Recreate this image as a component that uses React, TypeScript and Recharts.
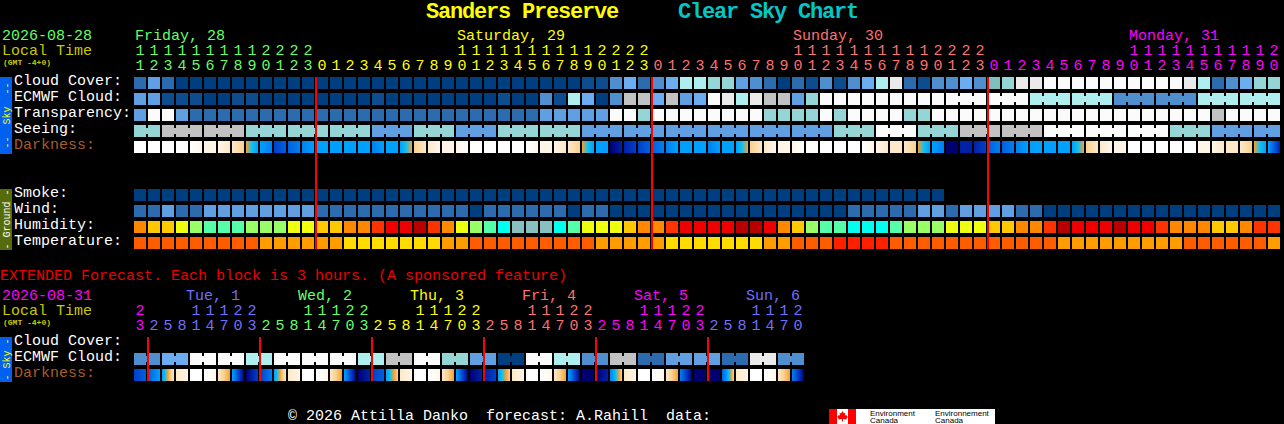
import React from "react";
import { ScatterChart, Scatter, XAxis, YAxis } from "recharts";

const FONT = "'Liberation Mono', monospace";

// level palettes
const skyPalette = ["#003f7f", "#0d4d8d", "#2c6cae", "#4f8fd0", "#5f9fe2", "#6cacf0", "#7fbfbf", "#95d5d5", "#aeeeee", "#c2c2c2", "#eaeaea", "#fbfbfb"];
const darkPalette = ["#ffffff", "#fff6e8", "#fde8c8", "#fbd090", "#f5a030", "#10c0f0", "#00a0ff", "#0080f0", "#0060e0", "#0040c8", "#0020a8", "#000070"];
const humidityPalette = ["#88c0c0", "#00ffee", "#55ffaa", "#99ff66", "#eeff10", "#ffc800", "#ff8800", "#ff3300", "#ee0000", "#b80000"];
const temperaturePalette = ["#ffdc00", "#ff9c00", "#ff5c00", "#ff2000"];

// hourly forecast
const hourlyHours = [
  11, 12, 13, 14, 15, 16, 17, 18, 19, 20, 21, 22, 23,
  0, 1, 2, 3, 4, 5, 6, 7, 8, 9, 10, 11, 12, 13, 14, 15, 16, 17, 18, 19, 20, 21, 22, 23,
  0, 1, 2, 3, 4, 5, 6, 7, 8, 9, 10, 11, 12, 13, 14, 15, 16, 17, 18, 19, 20, 21, 22, 23,
  0, 1, 2, 3, 4, 5, 6, 7, 8, 9, 10, 11, 12, 13, 14, 15, 16, 17, 18, 19, 20,
];
const hourlyDays = ["Friday, 28", "Saturday, 29", "Sunday, 30", "Monday, 31"];
const hourlyDayStarts = [0, 23, 47, 71];
const hourlyDayColors = ["#66ff66", "#ffff00", "#ff7070", "#ff00ff"];
const midnightBlocks = [13, 37, 61];

const cloudCover = [
  2, 4, 2, 0, 0, 0, 0, 0, 0, 0, 0, 0, 0,
  0, 0, 0, 0, 0, 0, 0, 0, 0, 0, 0, 0, 0, 0, 0, 0, 0, 0, 0, 1, 1, 3, 5, 2,
  3, 5, 8, 8, 7, 7, 4, 3, 2, 0, 2, 1, 3, 1, 3, 5, 8, 10, 2, 1, 3, 3, 5, 3,
  6, 7, 10, 10, 11, 11, 11, 11, 11, 11, 11, 11, 11, 11, 10, 8, 2, 3, 5, 7, 7,
];
const ecmwfCloud = [
  4, 4, 1, 1, 1, 0, 0, 1, 1, 0, 0, 0, 0,
  0, 0, 0, 0, 1, 0, 0, 0, 0, 0, 0, 0, 0, 1, 0, 0, 3, 1, 8, 5, 0, 3, 9, 9,
  5, 9, 4, 5, 11, 10, 8, 10, 9, 9, 4, 7, 11, 11, 11, 11, 11, 11, 11, 11, 11, 11, 11, 11,
  11, 11, 11, 8, 8, 8, 8, 8, 8, 3, 3, 3, 3, 3, 3, 8, 8, 8, 8, 8, 8,
];
const ecmwfGroups = [
  1, 1, 1, 1, 1, 1, 1, 1, 1, 1, 1, 1, 1, 1, 1, 1, 1, 1, 1, 1, 1, 1, 1, 1, 1, 1, 1, 1, 1,
  1, 1, 1, 1, 1, 1, 1, 1, 1, 1, 1, 1, 1, 1, 1, 1, 1, 1, 1, 1, 1, 1, 1, 1, 1, 1, 1, 1, 1,
  3, 3, 3, 3, 3, 3, 3, 3,
];
const transparency = [
  4, 11, 11, 4, 2, 2, 2, 2, 2, 2, 2, 2, 2,
  2, 2, 2, 2, 2, 2, 2, 2, 2, 2, 2, 2, 2, 2, 2, 2, 4, 4, 4, 4, 4, 11, 11, 7,
  11, 11, 11, 11, 11, 11, 11, 11, 7, 7, 7, 7, 11, 7, 11, 11, 11, 11, 7, 7, 11, 11, 11, 11,
  11, 11, 11, 11, 11, 11, 11, 11, 11, 11, 11, 11, 11, 11, 11, 11, 9, 11, 11, 11, 11,
];
const seeing = [
  7, 7, 9, 9, 9, 9, 9, 9, 7, 7, 7, 7, 7,
  7, 7, 7, 7, 4, 4, 4, 7, 7, 7, 4, 4, 4, 7, 7, 7, 7, 7, 7, 4, 4, 4, 4, 4,
  4, 4, 4, 4, 4, 4, 4, 4, 4, 4, 4, 4, 4, 7, 7, 7, 11, 11, 11, 7, 7, 7, 9, 9,
  9, 9, 9, 9, 11, 11, 11, 11, 11, 11, 11, 11, 11, 7, 7, 7, 4, 4, 4, 4, 4,
];
const seeingGroups = [2, 3, 3, 3, 3, 3, 3, 3, 3, 3, 3, 3, 3, 3, 3, 3, 3, 3, 3, 3, 3, 3, 3, 3, 3, 3, 3, 2];
const darknessStart = [
  0, 0, 0, 0, 0, 1, 1, 2, 4, 6, 9, 8, 7,
  6, 6, 6, 6, 7, 6, 6, 3, 2, 1, 1, 0, 0, 0, 0, 0, 1, 1, 2, 4, 6, 11, 10, 9,
  8, 7, 6, 6, 7, 6, 6, 3, 2, 1, 1, 0, 0, 0, 0, 0, 1, 2, 2, 4, 6, 11, 10, 10,
  8, 8, 7, 6, 6, 6, 6, 3, 2, 1, 0, 0, 0, 0, 0, 1, 1, 2, 2, 4, 6,
];
const darknessEnd = [
  0, 0, 0, 0, 1, 1, 2, 3, 6, 7, 8, 7, 6,
  6, 6, 6, 6, 6, 6, 4, 2, 1, 1, 0, 0, 0, 0, 0, 1, 1, 2, 3, 6, 6, 10, 9, 8,
  7, 6, 6, 6, 6, 6, 4, 2, 1, 1, 0, 0, 0, 0, 0, 1, 2, 2, 3, 6, 7, 11, 10, 9,
  7, 7, 6, 6, 6, 6, 4, 2, 1, 1, 0, 0, 0, 0, 0, 1, 2, 2, 3, 6, 10,
];
const smoke = [
  0, 0, 0, 0, 0, 0, 0, 0, 0, 0, 0, 0, 0, 0, 0, 0, 0, 0, 0, 0, 0, 0, 0, 0, 0, 0, 0, 0, 0,
  0, 0, 0, 0, 0, 0, 0, 0, 0, 0, 0, 0, 0, 0, 0, 0, 0, 0, 0, 0, 0, 0, 0, 0, 0, 0, 0, 0, 0,
];
const wind = [
  2, 2, 4, 2, 2, 4, 4, 4, 4, 4, 4, 4, 4,
  2, 2, 2, 2, 2, 2, 2, 2, 2, 2, 2, 0, 2, 2, 2, 2, 2, 2, 0, 2, 2, 0, 0, 0,
  0, 0, 0, 0, 0, 0, 0, 0, 0, 0, 0, 0, 0, 0, 2, 2, 2, 2, 2, 4, 4, 2, 4, 4,
  4, 4, 2, 2, 0, 0, 0, 0, 0, 0, 0, 0, 0, 0, 0, 0, 0, 0, 0, 0, 0,
];
const humidity = [
  6, 5, 5, 4, 3, 2, 2, 2, 3, 3, 3, 4, 4, 5, 5, 6, 6, 7, 8, 8, 9,
  7, 6, 4, 3, 2, 1, 0, 0, 0, 1, 2, 4, 4, 4, 5, 6, 6, 7, 8, 8, 8, 8, 9, 9, 8, 6, 5, 3, 2, 2, 1,
  1, 1, 2, 3, 3, 3, 4, 4, 4, 5, 5, 6, 6, 7, 9, 8, 8, 8, 9, 8, 8, 7, 6, 6, 6, 5, 5, 6, 7, 7,
];
const temperature = [
  2, 2, 2, 2, 2, 2, 2, 2, 2, 1, 1, 1, 1, 1, 1, 0, 0, 0, 0, 0, 0,
  0, 1, 1, 2, 2, 2, 2, 2, 2, 2, 2, 2, 1, 1, 1, 1, 1, 0, 0, 0, 0, 0, 0, 0, 1, 1, 2, 2, 2, 3, 3,
  3, 3, 2, 2, 2, 2, 2, 2, 2, 2, 2, 2, 2, 2, 1, 1, 1, 1, 1, 1, 1, 1, 1, 2, 2, 2, 2, 2, 2, 1,
];

// extended forecast
const extHours = [
  23,
  2, 5, 8, 11, 14, 17, 20, 23,
  2, 5, 8, 11, 14, 17, 20, 23,
  2, 5, 8, 11, 14, 17, 20, 23,
  2, 5, 8, 11, 14, 17, 20, 23,
  2, 5, 8, 11, 14, 17, 20, 23,
  2, 5, 8, 11, 14, 17, 20,
];
const extDays = ["Tue, 1", "Wed, 2", "Thu, 3", "Fri, 4", "Sat, 5", "Sun, 6"];
const extDayStarts = [4, 12, 20, 28, 36, 44];
const extDayColors = ["#ff00ff", "#7070ff", "#66ff66", "#ffff00", "#ff7070", "#ff00ff", "#7070ff"];
const extMidnightBlocks = [1, 9, 17, 25, 33, 41];
const extEcmwf = [3, 3, 5, 5, 11, 11, 11, 11, 8, 8, 11, 11, 11, 11, 11, 11, 8, 8, 9, 9, 11, 11, 7, 7, 4, 4, 0, 0, 11, 11, 8, 8, 3, 3, 9, 9, 2, 2, 4, 4, 4, 4, 2, 2, 10, 10, 3, 3];
const extEcmwfGroups = [2, 2, 2, 2, 2, 2, 2, 2, 2, 2, 2, 2, 2, 2, 2, 2, 2, 2, 2, 2, 2, 2, 2, 2];
const extDarkStart = [9, 8, 6, 2, 0, 0, 2, 6, 11, 9, 6, 2, 0, 0, 2, 6, 11, 9, 6, 2, 0, 0, 2, 6, 11, 10, 6, 2, 0, 0, 2, 6, 11, 11, 7, 2, 0, 0, 2, 7, 11, 11, 8, 2, 0, 0, 2, 7];
const extDarkEnd = [8, 6, 2, 1, 0, 1, 4, 11, 9, 7, 2, 1, 0, 1, 4, 11, 10, 8, 3, 1, 0, 1, 4, 11, 10, 9, 3, 1, 0, 1, 4, 11, 11, 10, 3, 1, 0, 1, 4, 11, 11, 11, 3, 1, 0, 1, 4, 11];

const hourlyLabels = ["Cloud Cover:", "ECMWF Cloud:", "Transparency:", "Seeing:", "Darkness:", "", "", "Smoke:", "Wind:", "Humidity:", "Temperature:"];
const extLabels = ["Cloud Cover:", "ECMWF Cloud:", "Darkness:"];

const groupLinks = (sizes: number[]) => {
  const links = new Set<number>();
  let at = 0;
  sizes.forEach((s) => {
    for (let k = 0; k < s - 1; k++) links.add(at + k);
    at += s;
  });
  return links;
};

const levelRows = (row: number, values: number[], palette: string[], sizes?: number[]) => {
  const links = sizes ? groupLinks(sizes) : new Set<number>();
  return values.map((v, i) => ({ x: i + 0.5, y: row + 0.5, fill: palette[v], link: links.has(i) }));
};
const darkRows = (row: number, a: number[], b: number[]) =>
  a.map((v, i) => ({ x: i + 0.5, y: row + 0.5, from: v, to: b[i], id: `d${row}-${a.length}-${i}` }));

const Block = (p: any) => {
  const { cx, cy, payload } = p;
  const x = cx - 6;
  const y = cy - 6;
  if (payload.id) {
    const { from, to, id } = payload;
    if (from === to) return <rect x={x} y={y} width={12} height={12} fill={darkPalette[from]} shapeRendering="crispEdges" />;
    const n = Math.abs(to - from);
    const dir = to > from ? 1 : -1;
    const stops = [];
    for (let k = 0; k <= n; k++) stops.push(<stop key={k} offset={k / n} stopColor={darkPalette[from + dir * k]} />);
    return (
      <g>
        <defs>
          <linearGradient id={id} x1="0" x2="1" y1="0" y2="0">{stops}</linearGradient>
        </defs>
        <rect x={x} y={y} width={12} height={12} fill={`url(#${id})`} shapeRendering="crispEdges" />
      </g>
    );
  }
  return (
    <g shapeRendering="crispEdges">
      <rect x={x} y={y} width={12} height={12} fill={payload.fill} />
      {payload.link ? <rect x={x + 12} y={y + 3} width={2} height={6} fill={payload.fill} /> : null}
    </g>
  );
};

const NoMark = () => <g />;
// the red day marks sit one pixel into the block that starts the local night
const redLine = (b: number, y0: number, y1: number) => [{ x: b + 1 / 14, y: y0 }, { x: b + 1 / 14, y: y1 }];
const redStyle = { stroke: "#ff0000", strokeWidth: 2, shapeRendering: "crispEdges" };

const makeHourTick = (hours: number[], colors: string[], days: string[], starts: number[], nameShift: number) => (p: any) => {
  const { x, y, payload } = p;
  const i = Math.floor(payload.value);
  const h = hours[i];
  let day = 0;
  for (let k = 1; k <= i; k++) if (hours[k] < hours[k - 1]) day++;
  const color = colors[day];
  const dn = starts.indexOf(i);
  return (
    <g fontFamily={FONT} fontSize={15} fill={color}>
      <text x={x} y={y - 5} textAnchor="middle">{String(h % 10)}</text>
      {h >= 10 ? <text x={x} y={y - 20} textAnchor="middle">{String(Math.floor(h / 10))}</text> : null}
      {dn >= 0 ? <text x={x - 6 + nameShift} y={y - 35}>{days[dn]}</text> : null}
    </g>
  );
};

const makeRowTick = (labels: string[]) => (p: any) => {
  const label = labels[Math.floor(p.payload.value)];
  return (
    <text x={14} y={p.y + 2} fontFamily={FONT} fontSize={15} fill={label === "Darkness:" ? "#a85c28" : "#ffffff"}>{label}</text>
  );
};

const allTicks = (n: number) => Array.from({ length: n }, (_, i) => i + 0.5);

const Vert = ({ cy, fill, children }: any) => (
  <text x={0} y={0} transform={`translate(9.5,${cy}) rotate(-90)`} textAnchor="middle" fontFamily={FONT} fontSize={10} fill={fill} style={{ whiteSpace: "pre" }}>{children}</text>
);

export default function App() {
  document.body.style.background = "#000";
  document.body.style.overflow = "hidden";
  const t = { fontFamily: FONT, fontSize: 15, style: { whiteSpace: "pre" as const } };
  return (
    <div style={{ position: "absolute", left: 0, top: 0, width: 1284, height: 424, background: "#000", overflow: "hidden" }}>
      <svg width={1284} height={424} style={{ position: "absolute", left: 0, top: 0 }}>
        <text x={426} y={18} fontFamily={FONT} fontWeight="bold" fontSize={22} letterSpacing={-1.2} fill="#ffff00">Sanders Preserve</text>
        <text x={678} y={18} fontFamily={FONT} fontWeight="bold" fontSize={22} letterSpacing={-1.2} fill="#00c8c8">Clear Sky Chart</text>

        <text x={2} y={40} {...t} fill="#66ff66">2026-08-28</text>
        <text x={2} y={55} {...t} fill="#c8c800">Local Time</text>
        <text x={3} y={65} fontFamily={FONT} fontSize={8} fontWeight="bold" fill="#c8c800">(GMT -4+0)</text>

        <rect x={0} y={77} width={12} height={77} fill="#0060f0" />
        <Vert cy={115.5} fill="#ffff00">{"--  Sky  --"}</Vert>
        <rect x={0} y={189} width={12} height={61} fill="#556b0c" />
        <Vert cy={219.5} fill="#ffffff">{"- Ground -"}</Vert>

        <text x={0} y={280} {...t} fill="#ee0000">EXTENDED Forecast. Each block is 3 hours. (A sponsored feature)</text>

        <text x={2} y={300} {...t} fill="#ff00ff">2026-08-31</text>
        <text x={2} y={315} {...t} fill="#c8c800">Local Time</text>
        <text x={3} y={325} fontFamily={FONT} fontSize={8} fontWeight="bold" fill="#c8c800">(GMT -4+0)</text>
        <rect x={0} y={337} width={12} height={45} fill="#0060f0" />
        <Vert cy={359.5} fill="#ffff00">{"- Sky -"}</Vert>

        <text x={288} y={420} {...t} fill="#ffffff">{"© 2026 Attilla Danko  forecast: A.Rahill  data:"}</text>
        <rect x={829} y={409} width={166} height={15} fill="#ffffff" />
        <rect x={829} y={409} width={8} height={15} fill="#ff0000" />
        <rect x={848} y={409} width={8} height={15} fill="#ff0000" />
        <path d="M842.5 411 l1.5 2.5 1.5 -1 -0.5 3 1.5 -0.5 0.5 1.5 1 0 -2 3 -3 -0.5 0 2.5 -1 0 0 -2.5 -3 0.5 -2 -3 1 0 0.5 -1.5 1.5 0.5 -0.5 -3 1.5 1z" fill="#ff0000" />
        <g fontFamily="'Liberation Sans', sans-serif" fontSize={8} fill="#000">
          <text x={870} y={415.5}>Environment</text>
          <text x={870} y={422.5}>Canada</text>
          <text x={935} y={415.5}>Environnement</text>
          <text x={935} y={422.5}>Canada</text>
        </g>
      </svg>

      <div style={{ position: "absolute", left: 0, top: 0 }}>
        <ScatterChart width={1284} height={251} margin={{ top: 0, right: 3, bottom: 0, left: 0 }}>
          <XAxis
            type="number" dataKey="x" orientation="top" height={75} domain={[0, 82]} ticks={allTicks(82)} interval={0}
            axisLine={false} tickLine={false} tickSize={0} tickMargin={0}
            tick={makeHourTick(hourlyHours, hourlyDayColors, hourlyDays, hourlyDayStarts, 1)}
          />
          <YAxis
            type="number" dataKey="y" width={133} reversed domain={[0, 11]} ticks={allTicks(11).filter((v) => hourlyLabels[Math.floor(v)] !== "")} interval={0}
            axisLine={false} tickLine={false} tick={makeRowTick(hourlyLabels)}
          />
          <Scatter data={levelRows(0, cloudCover, skyPalette)} shape={Block} isAnimationActive={false} />
          <Scatter data={levelRows(1, ecmwfCloud, skyPalette, ecmwfGroups)} shape={Block} isAnimationActive={false} />
          <Scatter data={levelRows(2, transparency, skyPalette)} shape={Block} isAnimationActive={false} />
          <Scatter data={levelRows(3, seeing, skyPalette, seeingGroups)} shape={Block} isAnimationActive={false} />
          <Scatter data={darkRows(4, darknessStart, darknessEnd)} shape={Block} isAnimationActive={false} />
          <Scatter data={levelRows(7, smoke, skyPalette)} shape={Block} isAnimationActive={false} />
          <Scatter data={levelRows(8, wind, skyPalette)} shape={Block} isAnimationActive={false} />
          <Scatter data={levelRows(9, humidity, humidityPalette)} shape={Block} isAnimationActive={false} />
          <Scatter data={levelRows(10, temperature, temperaturePalette)} shape={Block} isAnimationActive={false} />
          {midnightBlocks.map((b) => (
            <Scatter key={b} data={redLine(b, 0.125, 10.875)} line={redStyle} shape={NoMark} isAnimationActive={false} />
          ))}
        </ScatterChart>
      </div>

      <div style={{ position: "absolute", left: 0, top: 260 }}>
        <ScatterChart width={1284} height={123} margin={{ top: 0, right: 479, bottom: 0, left: 0 }}>
          <XAxis
            type="number" dataKey="x" orientation="top" height={75} domain={[0, 48]} ticks={allTicks(48)} interval={0}
            axisLine={false} tickLine={false} tickSize={0} tickMargin={0}
            tick={makeHourTick(extHours, extDayColors, extDays, extDayStarts, -4)}
          />
          <YAxis
            type="number" dataKey="y" width={133} reversed domain={[0, 3]} ticks={allTicks(3)} interval={0}
            axisLine={false} tickLine={false} tick={makeRowTick(extLabels)}
          />
          <Scatter data={levelRows(1, extEcmwf, skyPalette, extEcmwfGroups)} shape={Block} isAnimationActive={false} />
          <Scatter data={darkRows(2, extDarkStart, extDarkEnd)} shape={Block} isAnimationActive={false} />
          {extMidnightBlocks.map((b) => (
            <Scatter key={b} data={redLine(b, 0.125, 2.875)} line={redStyle} shape={NoMark} isAnimationActive={false} />
          ))}
        </ScatterChart>
      </div>
    </div>
  );
}
